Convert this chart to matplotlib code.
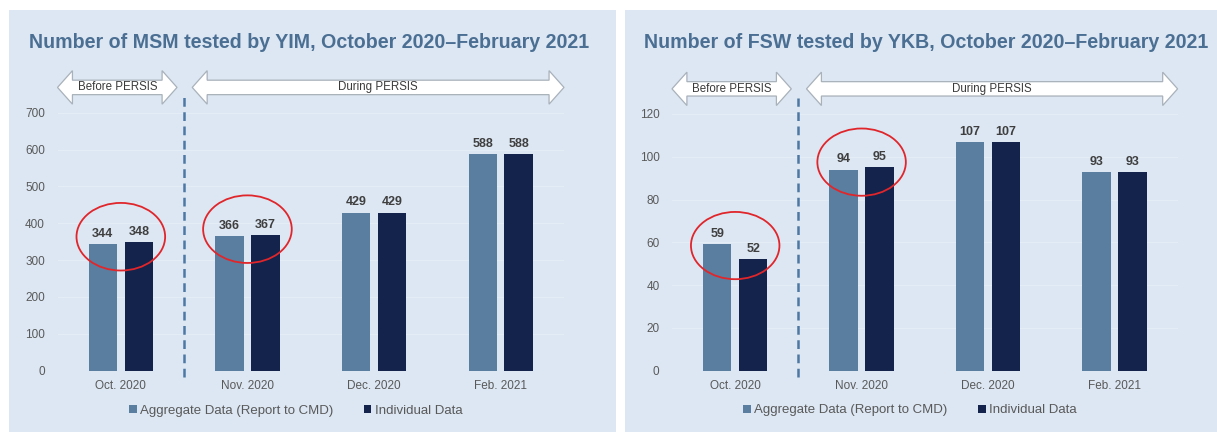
import matplotlib
matplotlib.use("Agg")
import matplotlib.pyplot as plt
from matplotlib.patches import Rectangle, Ellipse, Polygon
from matplotlib.transforms import blended_transform_factory

plt.rcParams['font.family'] = ['Liberation Sans', 'DejaVu Sans']

months = ["Oct. 2020", "Nov. 2020", "Dec. 2020", "Feb. 2021"]
series_names = ["Aggregate Data (Report to CMD)", "Individual Data"]

msm_title = "Number of MSM tested by YIM, October 2020\u2013February 2021"
msm_aggregate = [344, 366, 429, 588]
msm_individual = [348, 367, 429, 588]
msm_ticks = [0, 100, 200, 300, 400, 500, 600, 700]

fsw_title = "Number of FSW tested by YKB, October 2020\u2013February 2021"
fsw_aggregate = [59, 94, 107, 93]
fsw_individual = [52, 95, 107, 93]
fsw_ticks = [0, 20, 40, 60, 80, 100, 120]

circled = [0, 1]          # months marked with a red ellipse
phases = ["Before PERSIS", "During PERSIS"]

BG = "#dce7f3"
AGG = "#5a7e9f"
IND = "#13234c"
TITLE_C = "#4b6f93"
TEXT_C = "#595959"

W, H = 1217, 432
fig = plt.figure(figsize=(W / 100, H / 100), dpi=100)
fig.patch.set_facecolor("white")

# light blue panels behind each chart
fig.add_artist(Rectangle((9 / W, 0), 607 / W, 422 / H, transform=fig.transFigure,
                         facecolor=BG, edgecolor="none", zorder=0))
fig.add_artist(Rectangle((625 / W, 0), 592 / W, 422 / H, transform=fig.transFigure,
                         facecolor=BG, edgecolor="none", zorder=0))


def block_arrow(ax, x0, x1, yc, label):
    tr = blended_transform_factory(ax.transData, ax.transAxes)
    hl = 0.118     # head length (data units)
    hh = 0.065     # head half height (axes units)
    bh = 0.028     # body half height
    pts = [(x0, yc), (x0 + hl, yc + hh), (x0 + hl, yc + bh), (x1 - hl, yc + bh),
           (x1 - hl, yc + hh), (x1, yc), (x1 - hl, yc - hh), (x1 - hl, yc - bh),
           (x0 + hl, yc - bh), (x0 + hl, yc - hh)]
    ax.add_patch(Polygon(pts, closed=True, transform=tr, facecolor="white",
                         edgecolor="#a9b1ba", lw=0.9, clip_on=False, zorder=5))
    ax.text((x0 + x1) / 2, yc, label, transform=tr, ha="center", va="center",
            fontsize=8.3, color="#3a3a3a", zorder=6)


def draw_panel(ax, title, title_x, agg, ind, ticks):
    ax.set_facecolor("none")
    x = range(len(months))
    bw = 0.224
    off = 0.142
    ax.bar([i - off for i in x], agg, bw, color=AGG, label=series_names[0], zorder=3)
    ax.bar([i + off for i in x], ind, bw, color=IND, label=series_names[1], zorder=3)
    for i in x:
        ax.annotate(str(agg[i]), (i - off, agg[i]), xytext=(0, 3), textcoords="offset points",
                    ha="center", va="bottom", fontsize=9, fontweight="bold", color="#3f3f3f")
        ax.annotate(str(ind[i]), (i + off, ind[i]), xytext=(0, 3), textcoords="offset points",
                    ha="center", va="bottom", fontsize=9, fontweight="bold", color="#3f3f3f")

    ymax = ticks[-1]
    ax.set_xlim(-0.5, len(months) - 0.5)
    ax.set_ylim(0, ymax)
    ax.set_yticks(ticks)
    ax.set_xticks(list(x))
    ax.set_xticklabels(months)
    ax.tick_params(length=0, labelsize=8.5, colors=TEXT_C)
    ax.tick_params(axis="x", pad=7)
    ax.tick_params(axis="y", pad=9)
    for s in ax.spines.values():
        s.set_visible(False)
    ax.grid(axis="y", color="#e4ecf6", lw=0.9, zorder=0)
    ax.set_axisbelow(True)

    # red ellipses on the compared months
    for i in circled:
        yc = (agg[i] + ind[i]) / 2 + 0.025 * ymax
        ax.add_patch(Ellipse((i, yc), 0.70, 0.262 * ymax, facecolor="none",
                             edgecolor="#e0262b", lw=1.3, zorder=6, clip_on=False))

    # before / during divider
    tr = blended_transform_factory(ax.transData, ax.transAxes)
    ax.plot([0.5, 0.5], [-0.026, 1.064], transform=tr, color="#4d78a3", lw=1.8,
            ls=(0, (3.5, 2.2)), clip_on=False, zorder=4)
    block_arrow(ax, -0.5, 0.444, 1.098, phases[0])
    block_arrow(ax, 0.564, 3.5, 1.098, phases[1])

    ax.legend(loc="center", bbox_to_anchor=(0.47, -0.155), ncol=2, frameon=False,
              fontsize=9.5, handlelength=0.6, handleheight=0.6, handletextpad=0.25,
              columnspacing=2.3, labelcolor=TEXT_C)

    fig.text(title_x / W, 1 - 42 / H, title, ha="left", va="center", fontsize=14.1,
             fontweight="bold", color=TITLE_C)


ax1 = fig.add_axes([57.5 / W, 61.3 / H, 506.5 / W, 258 / H])
ax2 = fig.add_axes([672 / W, 61.3 / H, 505.6 / W, 256.7 / H])

draw_panel(ax1, msm_title, 29, msm_aggregate, msm_individual, msm_ticks)
draw_panel(ax2, fsw_title, 644, fsw_aggregate, fsw_individual, fsw_ticks)

fig.savefig("out.png", dpi=100, facecolor=fig.get_facecolor())
